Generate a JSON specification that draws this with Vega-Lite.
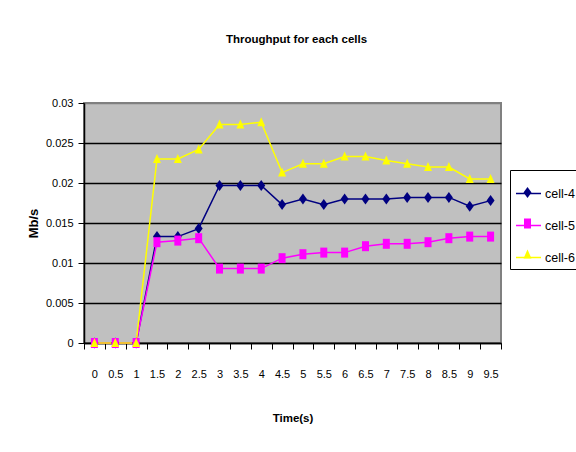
{
  "$schema": "https://vega.github.io/schema/vega-lite/v6.json",
  "autosize": {"type": "none"},
  "width": 417,
  "height": 240,
  "padding": {"left": 84, "top": 103, "right": 75, "bottom": 109},
  "background": "white",
  "title": {
    "text": "Throughput for each cells",
    "font": "Liberation Sans, Arial",
    "fontSize": 11.5,
    "fontWeight": "bold",
    "color": "black",
    "anchor": "middle",
    "frame": "group",
    "dx": 4,
    "offset": 52
  },
  "config": {
    "view": {"fill": "#c0c0c0", "stroke": "#808080", "strokeWidth": 2},
    "font": "Liberation Sans, Arial"
  },
  "data": {
    "values": [
      {"t": 0, "series": "cell-4", "v": 0},
      {"t": 0.5, "series": "cell-4", "v": 0},
      {"t": 1, "series": "cell-4", "v": 0},
      {"t": 1.5, "series": "cell-4", "v": 0.0133},
      {"t": 2, "series": "cell-4", "v": 0.0133},
      {"t": 2.5, "series": "cell-4", "v": 0.0143},
      {"t": 3, "series": "cell-4", "v": 0.0197},
      {"t": 3.5, "series": "cell-4", "v": 0.0197},
      {"t": 4, "series": "cell-4", "v": 0.0197},
      {"t": 4.5, "series": "cell-4", "v": 0.0173},
      {"t": 5, "series": "cell-4", "v": 0.018},
      {"t": 5.5, "series": "cell-4", "v": 0.0173},
      {"t": 6, "series": "cell-4", "v": 0.018},
      {"t": 6.5, "series": "cell-4", "v": 0.018},
      {"t": 7, "series": "cell-4", "v": 0.018},
      {"t": 7.5, "series": "cell-4", "v": 0.0182},
      {"t": 8, "series": "cell-4", "v": 0.0182},
      {"t": 8.5, "series": "cell-4", "v": 0.0182},
      {"t": 9, "series": "cell-4", "v": 0.0171},
      {"t": 9.5, "series": "cell-4", "v": 0.0178},
      {"t": 0, "series": "cell-5", "v": 0},
      {"t": 0.5, "series": "cell-5", "v": 0},
      {"t": 1, "series": "cell-5", "v": 0},
      {"t": 1.5, "series": "cell-5", "v": 0.0126},
      {"t": 2, "series": "cell-5", "v": 0.0128},
      {"t": 2.5, "series": "cell-5", "v": 0.0131},
      {"t": 3, "series": "cell-5", "v": 0.0093},
      {"t": 3.5, "series": "cell-5", "v": 0.0093},
      {"t": 4, "series": "cell-5", "v": 0.0093},
      {"t": 4.5, "series": "cell-5", "v": 0.0106},
      {"t": 5, "series": "cell-5", "v": 0.0111},
      {"t": 5.5, "series": "cell-5", "v": 0.0113},
      {"t": 6, "series": "cell-5", "v": 0.0113},
      {"t": 6.5, "series": "cell-5", "v": 0.0121},
      {"t": 7, "series": "cell-5", "v": 0.0124},
      {"t": 7.5, "series": "cell-5", "v": 0.0124},
      {"t": 8, "series": "cell-5", "v": 0.0126},
      {"t": 8.5, "series": "cell-5", "v": 0.0131},
      {"t": 9, "series": "cell-5", "v": 0.0133},
      {"t": 9.5, "series": "cell-5", "v": 0.0133},
      {"t": 0, "series": "cell-6", "v": 0},
      {"t": 0.5, "series": "cell-6", "v": 0},
      {"t": 1, "series": "cell-6", "v": 0},
      {"t": 1.5, "series": "cell-6", "v": 0.023},
      {"t": 2, "series": "cell-6", "v": 0.023},
      {"t": 2.5, "series": "cell-6", "v": 0.0242},
      {"t": 3, "series": "cell-6", "v": 0.0273},
      {"t": 3.5, "series": "cell-6", "v": 0.0273},
      {"t": 4, "series": "cell-6", "v": 0.0276},
      {"t": 4.5, "series": "cell-6", "v": 0.0213},
      {"t": 5, "series": "cell-6", "v": 0.0224},
      {"t": 5.5, "series": "cell-6", "v": 0.0224},
      {"t": 6, "series": "cell-6", "v": 0.0233},
      {"t": 6.5, "series": "cell-6", "v": 0.0233},
      {"t": 7, "series": "cell-6", "v": 0.0228},
      {"t": 7.5, "series": "cell-6", "v": 0.0224},
      {"t": 8, "series": "cell-6", "v": 0.022},
      {"t": 8.5, "series": "cell-6", "v": 0.022},
      {"t": 9, "series": "cell-6", "v": 0.0205},
      {"t": 9.5, "series": "cell-6", "v": 0.0205}
    ]
  },
  "encoding": {
    "x": {
      "field": "t",
      "type": "ordinal",
      "scale": {"paddingInner": 0, "paddingOuter": 0},
      "axis": {
        "title": "Time(s)",
        "labelAngle": 0,
        "labelFontSize": 11,
        "labelColor": "black",
        "labelPadding": 19,
        "tickBand": "extent",
        "tickSize": 6,
        "tickColor": "black",
        "domainColor": "black",
        "domainWidth": 1.5,
        "grid": false,
        "titleFontSize": 11.5,
        "titleFontWeight": "bold",
        "titleColor": "black",
        "titlePadding": 33
      }
    },
    "y": {
      "field": "v",
      "type": "quantitative",
      "scale": {"domain": [0, 0.03], "nice": false},
      "axis": {
        "title": "Mb/s",
        "values": [0, 0.005, 0.01, 0.015, 0.02, 0.025, 0.03],
        "format": ".3~f",
        "labelFontSize": 11,
        "labelColor": "black",
        "labelPadding": 5,
        "tickSize": 6,
        "tickColor": "black",
        "domainColor": "black",
        "domainWidth": 1.5,
        "grid": true,
        "gridColor": {"condition": {"test": "datum.value >= 0.03", "value": "#808080"}, "value": "black"},
        "gridWidth": 1.5,
        "titleFontSize": 13,
        "titleFontWeight": "bold",
        "titleColor": "black",
        "titlePadding": 5
      }
    }
  },
  "layer": [
    {
      "mark": {"type": "line", "strokeWidth": 1.5},
      "encoding": {
        "stroke": {
          "field": "series",
          "type": "nominal",
          "scale": {"domain": ["cell-4", "cell-5", "cell-6"], "range": ["#000080", "#ff00ff", "#ffff00"]},
          "legend": {
            "title": " ",
            "titleFontSize": 2,
            "titlePadding": 3,
            "orient": "none",
            "legendX": 426,
            "legendY": 67,
            "symbolType": "stroke",
            "symbolSize": 625,
            "symbolStrokeWidth": 1.5,
            "labelFontSize": 12.5,
            "labelColor": "black",
            "labelOffset": 3,
            "rowPadding": 12,
            "padding": 5,
            "strokeColor": "black"
          }
        }
      }
    },
    {
      "mark": {"type": "point", "filled": true, "size": 625, "opacity": 1, "strokeWidth": 0},
      "encoding": {
        "color": {
          "field": "series",
          "type": "nominal",
          "scale": {"range": ["#000080", "#ff00ff", "#ffff00"]},
          "legend": {
            "title": " ",
            "titleFontSize": 2,
            "titlePadding": 3,
            "orient": "none",
            "legendX": 426,
            "legendY": 67,
            "symbolSize": 625,
            "symbolStrokeWidth": 0,
            "labelFontSize": 12.5,
            "labelExpr": "''",
            "labelOffset": 3,
            "rowPadding": 12,
            "padding": 5
          }
        },
        "shape": {
          "field": "series",
          "type": "nominal",
          "scale": {
            "range": [
              "M0,-0.44L0.32,0L0,0.44L-0.32,0Z",
              "M-0.28,-0.4H0.28V0.4H-0.28Z",
              "M0,-0.4L0.32,0.32L-0.32,0.32Z"
            ]
          }
        }
      }
    }
  ]
}
